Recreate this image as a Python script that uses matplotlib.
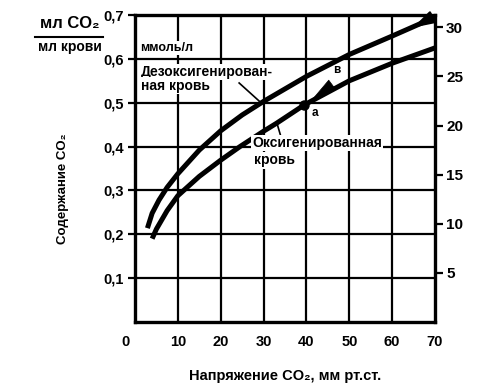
import matplotlib
matplotlib.use("Agg")
import matplotlib.pyplot as plt
from matplotlib.lines import Line2D
from matplotlib.transforms import ScaledTranslation

plt.rcParams["font.family"] = ["Liberation Sans", "DejaVu Sans"]

# CO2 content (ml CO2 / ml blood) vs PCO2 (mm Hg)
deoxy_pco2 = [2.9, 4.0, 5.6, 7.5, 10, 15, 20, 25, 30, 40, 50, 60, 70]
deoxy_co2 = [0.214, 0.248, 0.278, 0.307, 0.338, 0.392, 0.436, 0.472, 0.503, 0.56, 0.61, 0.652, 0.695]

oxy_pco2 = [4.0, 5.0, 7.5, 10, 15, 20, 24.5, 30, 33, 39.5, 50, 60, 70]
oxy_co2 = [0.19, 0.212, 0.254, 0.288, 0.332, 0.369, 0.40, 0.435, 0.453, 0.495, 0.55, 0.59, 0.625]

point_a = (39.5, 0.495)
point_b = (46.5, 0.545)

x_ticks = [0, 10, 20, 30, 40, 50, 60, 70]
y_ticks = [0.1, 0.2, 0.3, 0.4, 0.5, 0.6, 0.7]
y_labels = ["0,1", "0,2", "0,3", "0,4", "0,5", "0,6", "0,7"]
mmol_ticks = [5, 10, 15, 20, 25, 30]
ML_PER_MMOL = 22.4  # ml CO2 per mmol

W, H = 496, 389
fig = plt.figure(figsize=(W / 100, H / 100), dpi=100)
ax = fig.add_axes([135 / W, 1 - 322 / H, 300 / W, 307 / H])

for xv in x_ticks[1:-1]:
    ax.axvline(xv, color="black", lw=1.6, zorder=1)
for yv in y_ticks[:-1]:
    ax.axhline(yv, color="black", lw=1.6, zorder=1)

ax.plot(deoxy_pco2, deoxy_co2, color="black", lw=3.6, solid_capstyle="butt", zorder=3, clip_on=False)
ax.plot(oxy_pco2, oxy_co2, color="black", lw=3.6, solid_capstyle="butt", zorder=3, clip_on=False)

# thickened end of the venous curve at the corner
ax.annotate("", xy=(65.0, 0.672), xytext=(70, 0.698),
            arrowprops=dict(arrowstyle="wedge,tail_width=0.8", color="black", lw=1.5),
            annotation_clip=False, zorder=4)

# a -> в shift
ax.plot(*point_a, "o", color="black", ms=6.5, zorder=5)
ax.annotate("", xy=(41.0, 0.505), xytext=point_b,
            arrowprops=dict(arrowstyle="wedge,tail_width=0.8", color="black", lw=0.5),
            zorder=5)
ax.text(41.3, 0.476, "а", fontsize=8.5, fontweight="bold", ha="left", va="center")
ax.text(47.0, 0.574, "в", fontsize=8.5, fontweight="bold", ha="center", va="center")

box = dict(facecolor="white", edgecolor="none", pad=1.0)
ax.text(1.3, 0.625, "ммоль/л", fontsize=9, fontweight="bold", ha="left", va="center", bbox=box, zorder=6)
ax.text(1.3, 0.570, "Дезоксигенирован-", fontsize=10, fontweight="bold", ha="left", va="center", bbox=box, zorder=6)
ax.text(1.3, 0.539, "ная кровь", fontsize=10, fontweight="bold", ha="left", va="center", bbox=box, zorder=6)
ax.plot([24.3, 29.4], [0.545, 0.500], color="black", lw=1.2, zorder=4)

ax.text(27.3, 0.408, "Оксигенированная", fontsize=10, fontweight="bold", ha="left", va="center", bbox=box, zorder=6)
ax.text(27.8, 0.369, "кровь", fontsize=10, fontweight="bold", ha="left", va="center", bbox=box, zorder=6)
ax.plot([33.1, 34.0], [0.454, 0.424], color="black", lw=1.2, zorder=4)

ax.set_xlim(0, 70)
ax.set_ylim(0, 0.7)
for s in ax.spines.values():
    s.set_linewidth(2.4)
ax.set_xticks(x_ticks)
ax.set_xticklabels([str(v) for v in x_ticks])
ax.set_yticks(y_ticks)
ax.set_yticklabels(y_labels)
ax.tick_params(axis="both", direction="out", length=5, width=1.6, labelsize=10.5, pad=3)
ax.tick_params(axis="x", length=0, pad=9)
for lab in ax.get_xticklabels() + ax.get_yticklabels():
    lab.set_fontweight("bold")
first = ax.get_xticklabels()[0]
first.set_transform(first.get_transform() + ScaledTranslation(-0.1, 0, fig.dpi_scale_trans))

ax2 = ax.twinx()
ax2.set_ylim(0, 0.7 * 1000 / ML_PER_MMOL)
ax2.set_yticks(mmol_ticks)
ax2.set_yticklabels([str(v) for v in mmol_ticks])
ax2.tick_params(axis="y", direction="out", length=6, width=1.6, labelsize=11, pad=2)
for lab in ax2.get_yticklabels():
    lab.set_fontweight("bold")
for s in ax2.spines.values():
    s.set_visible(False)

ax.set_xlabel("Напряжение CO₂, мм рт.ст.", fontsize=10.5, fontweight="bold", labelpad=15)
fig.text(63 / W, 1 - 189 / H, "Содержание CO₂", rotation=90, fontsize=9.5, fontweight="bold",
         ha="center", va="center")

# unit fraction at top left
fig.text(70 / W, 1 - 24 / H, "мл CO₂", fontsize=12, fontweight="bold", ha="center", va="center")
fig.add_artist(Line2D([35 / W, 103 / W], [1 - 37 / H, 1 - 37 / H], color="black", lw=1.5))
fig.text(70 / W, 1 - 47 / H, "мл крови", fontsize=10, fontweight="bold", ha="center", va="center")

fig.savefig("out.png", dpi=100)
